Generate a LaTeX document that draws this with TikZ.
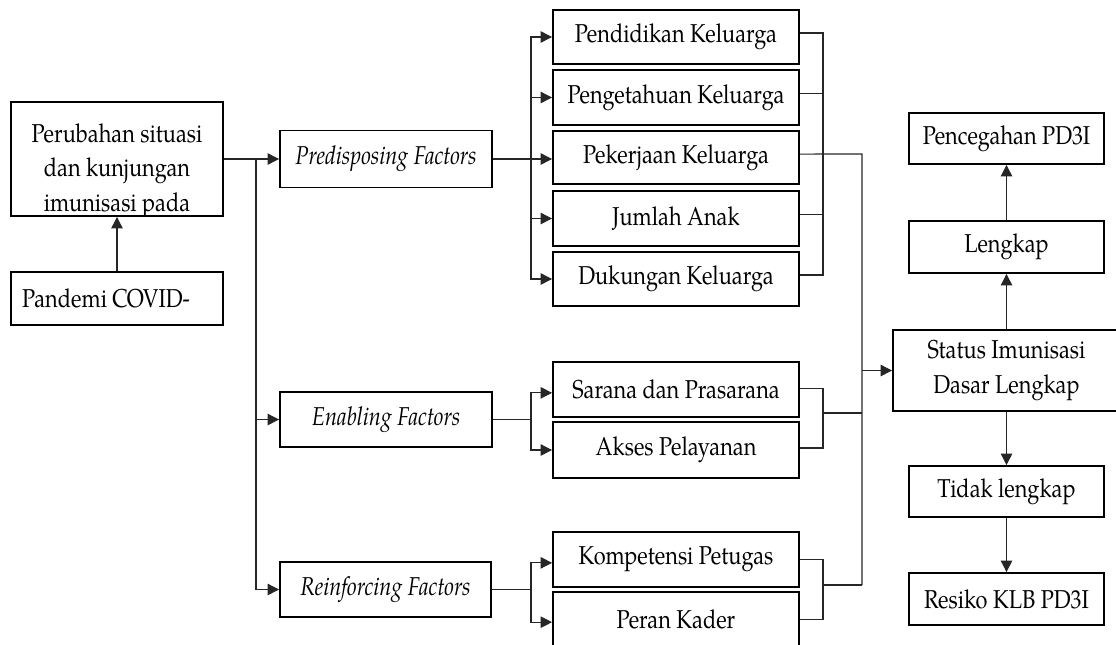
\documentclass[tikz,border=0pt]{standalone}
\usepackage{fontspec}
\setmainfont{TeX Gyre Pagella}[FakeStretch=0.84]
\usetikzlibrary{arrows.meta}
\newcommand\fs{\fontsize{19.4}{26}\selectfont}
\tikzset{
  bx/.style 2 args={draw=black, line width=1.4pt, inner sep=0pt,
    minimum width=#1*0.75pt, minimum height=#2*0.75pt, align=center, font=\fs},
  ln/.style={line width=0.8pt, draw=black!85},
  arr/.style={ln, -{Triangle[length=8.5pt,width=8.5pt]}},
  txt/.style={inner sep=0pt, align=center, font=\fs},
}
\begin{document}
\begin{tikzpicture}[x=0.75pt,y=-0.75pt]
\useasboundingbox (0,0) rectangle (1116,644);
% left column
\node[bx={212}{114}] (per) at (117,159) {};
\begin{scope}
  \clip (per.south west) rectangle (per.north east);
  \node[txt] (pertxt) at (117,171) {Perubahan situasi\\dan kunjungan\\imunisasi pada};
\end{scope}
\node[bx={212}{53}] (pan) at (117,298.5) {};
\node[txt] (pantxt) at (106,298.5) {Pandemi COVID-};
% factors
\node[bx={212}{57}, font=\fs\itshape] (pred) at (386,159) {Predisposing Factors};
\node[bx={212}{55}, font=\fs\itshape] (ena) at (386,419.5) {Enabling Factors};
\node[bx={211}{55}, font=\fs\itshape] (rei) at (385.5,589.5) {Reinforcing Factors};
% middle column
\node[bx={246}{54}] (pend) at (676,37) {Pendidikan Keluarga};
\node[bx={246}{55}] (peng) at (676,97.5) {Pengetahuan Keluarga};
\node[bx={246}{53}] (peker) at (676,157.5) {Pekerjaan Keluarga};
\node[bx={246}{55}] (jum) at (676,218.5) {Jumlah Anak};
\node[bx={246}{54}] (duk) at (676,279) {Dukungan Keluarga};
\node[bx={246}{55}] (sar) at (676,389.5) {Sarana dan Prasarana};
\node[bx={246}{56}] (akses) at (676,450) {Akses Pelayanan};
\node[bx={246}{55}] (komp) at (676,559.5) {Kompetensi Petugas};
\node[bx={246}{55}] (peran) at (676,619.5) {Peran Kader};
% right column
\node[bx={227}{81}] (stat) at (1006.5,370.5) {Status Imunisasi\\Dasar Lengkap};
\node[bx={195}{51}] (penc) at (1006.5,138.5) {Pencegahan PD3I};
\node[bx={195}{52}] (leng) at (1006.5,247) {Lengkap};
\node[bx={195}{51}] (tidak) at (1006.5,491.5) {Tidak lengkap};
\node[bx={195}{52}] (resiko) at (1006.5,599) {Resiko KLB PD3I};
% connectors left
\draw[arr] (pan) -- (per);
\coordinate (j0) at (256,159);
\draw[arr] (per.east) -- (pred.west);
\draw[arr] (j0) |- (ena.west);
\draw[arr] (j0) |- (rei.west);
% predisposing bracket
\coordinate (b1) at (531,159);
\draw[arr] (pred.east) -- (pred.east -| peker.west);
\draw[arr] (b1) |- (pend.west);
\draw[arr] (b1) |- (peng.west);
\draw[arr] (b1) |- (jum.west);
\draw[arr] (b1) |- (duk.west);
\coordinate (r1) at (823,154);
\draw[ln] ([yshift=3pt]pend.east) -| (r1);
\draw[ln] ([yshift=3pt]peng.east) -| (r1);
\draw[ln] ([yshift=3pt]jum.east) -| (r1);
\draw[ln] ([yshift=3pt]duk.east) -| (r1);
\coordinate (m1) at (862,154);
\coordinate (m2) at (862,585);
\draw[ln] ([yshift=2.6pt]peker.east) -- (m1) -- (m2);
\draw[arr] (m1 |- stat.west) -- (stat.west);
% enabling bracket
\coordinate (e1) at (531,419.5);
\draw[ln] (ena.east) -- (e1);
\draw[arr] (e1) |- ([yshift=-2.5pt]sar.west);
\draw[arr] (e1) |- (akses.west);
\coordinate (e2) at (823,413);
\draw[ln] ([yshift=1pt]sar.east) -| (e2);
\draw[ln] ([yshift=1.5pt]akses.east) -| (e2);
\draw[ln] (e2) -- (e2 -| m1);
% reinforcing bracket
\coordinate (f1) at (531,589.5);
\draw[ln] (rei.east) -- (f1);
\draw[arr] (f1) |- ([yshift=-2.5pt]komp.west);
\draw[arr] (f1) |- ([yshift=-2pt]peran.west);
\coordinate (f2) at (823,585);
\draw[ln] (komp.east) -| (f2);
\draw[ln] (peran.east) -| (f2);
\draw[ln] (f2) -- (m2);
% right column
\draw[arr] (stat) -- (leng);
\draw[arr] (leng) -- (penc);
\draw[arr] (stat) -- (tidak);
\draw[arr] (tidak) -- (resiko);
\end{tikzpicture}
\end{document}
